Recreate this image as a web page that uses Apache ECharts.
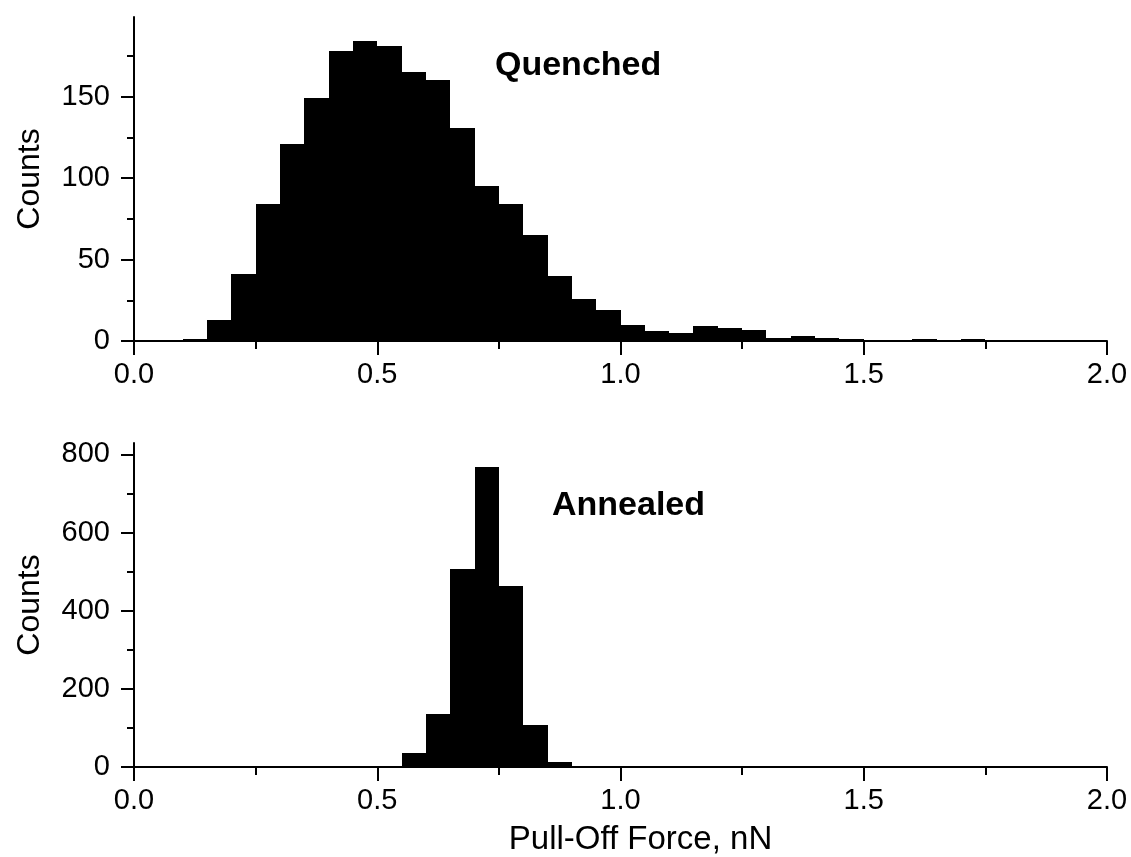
<!DOCTYPE html>
<html>
<head>
<meta charset="utf-8">
<title>Pull-off force histograms</title>
<script src="https://cdn.jsdelivr.net/npm/echarts@6/dist/echarts.min.js"></script>
<style>
  html, body { margin: 0; padding: 0; background: #fff; }
  #chart { width: 1131px; height: 857px; }
</style>
</head>
<body>
<div id="chart"></div>
<script>
// histogram bins, width 0.05 nN (left edges)
const binWidth = 0.05;
const binStarts = [
  0.00, 0.05, 0.10, 0.15, 0.20, 0.25, 0.30, 0.35, 0.40, 0.45,
  0.50, 0.55, 0.60, 0.65, 0.70, 0.75, 0.80, 0.85, 0.90, 0.95,
  1.00, 1.05, 1.10, 1.15, 1.20, 1.25, 1.30, 1.35, 1.40, 1.45,
  1.50, 1.55, 1.60, 1.65, 1.70, 1.75, 1.80, 1.85, 1.90, 1.95
];

// counts
const quenchedCounts = [
  0, 0, 1, 13, 41, 84, 121, 149, 178, 184,
  181, 165, 160, 131, 95, 84, 65, 40, 26, 19,
  10, 6, 5, 9, 8, 7, 2, 3, 2, 1,
  0, 0, 1, 0, 1, 0, 0, 0, 0, 0
];
const annealedCounts = [
  0, 0, 0, 0, 0, 0, 0, 0, 0, 0,
  0, 35, 135, 506, 767, 462, 107, 14, 0, 0,
  0, 0, 0, 0, 0, 0, 0, 0, 0, 0,
  0, 0, 0, 0, 0, 0, 0, 0, 0, 0
];

// axis ticks
const quenchedMajor = [0, 50, 100, 150];
const quenchedMinor = [25, 75, 125, 175];
const annealedMajor = [0, 200, 400, 600, 800];
const annealedMinor = [100, 300, 500, 700];

const FONT = '"Liberation Sans", Arial, Helvetica, sans-serif';
const black = '#000';

const chart = echarts.init(document.getElementById('chart'));

const toBins = counts => binStarts.map((s, i) => [s, s + binWidth, counts[i]]);

// draw each bin as a rect through the axis scales;
// edges snapped to whole pixels so neighbouring bins join without seams
function renderBin(params, api) {
  if (!api.value(2)) return null;
  const top = api.coord([api.value(0), api.value(2)]);
  const bottom = api.coord([api.value(1), 0]);
  const x0 = Math.round(top[0]);
  const x1 = Math.round(bottom[0]);
  const y1 = Math.round(bottom[1]);
  const y0 = Math.min(Math.round(top[1]), y1 - 1);
  return {
    type: 'rect',
    shape: { x: x0, y: y0, width: x1 - x0, height: y1 - y0 },
    style: { fill: black }
  };
}

function xAxisFor(gridIndex, name) {
  return {
    type: 'value',
    gridIndex,
    min: 0,
    max: 2,
    interval: 0.5,
    axisLine: { onZero: false, lineStyle: { color: black, width: 2 } },
    axisTick: { length: 14, lineStyle: { color: black, width: 2 } },
    minorTick: { show: true, splitNumber: 2, length: 8, lineStyle: { color: black, width: 2 } },
    splitLine: { show: false },
    axisLabel: {
      color: black, fontFamily: FONT, fontSize: 29, margin: 19,
      formatter: v => v.toFixed(1)
    },
    name,
    nameLocation: 'middle',
    nameGap: 56,
    nameTextStyle: { color: black, fontFamily: FONT, fontSize: 33, padding: [0, 0, 0, 40] }
  };
}

function yAxisFor(gridIndex, max, major) {
  return {
    type: 'value',
    gridIndex,
    min: 0,
    max,
    position: 'left',
    axisLine: { show: true, onZero: false, lineStyle: { color: black, width: 2 } },
    axisTick: { show: true, length: 13, customValues: major, lineStyle: { color: black, width: 2 } },
    axisLabel: { color: black, fontFamily: FONT, fontSize: 29, margin: 24, customValues: major },
    splitLine: { show: false },
    name: 'Counts',
    nameLocation: 'middle',
    nameGap: 88,
    nameRotate: 90,
    nameTextStyle: { color: black, fontFamily: FONT, fontSize: 32 }
  };
}

// second left axis per grid, only for the short minor ticks
function minorYAxisFor(gridIndex, max, minor) {
  return {
    type: 'value',
    gridIndex,
    min: 0,
    max,
    position: 'left',
    axisLine: { show: false },
    axisTick: { show: true, length: 7, customValues: minor, lineStyle: { color: black, width: 2 } },
    axisLabel: { show: false },
    splitLine: { show: false }
  };
}

const option = {
  backgroundColor: '#fff',
  animation: false,
  grid: [
    { left: 134, right: 24, top: 17, bottom: 516, outerBoundsMode: 'none' },
    { left: 134, right: 24, top: 443, bottom: 90, outerBoundsMode: 'none' }
  ],
  xAxis: [
    xAxisFor(0, ''),
    xAxisFor(1, 'Pull-Off Force, nN')
  ],
  yAxis: [
    yAxisFor(0, 199, quenchedMajor),
    yAxisFor(1, 829, annealedMajor),
    minorYAxisFor(0, 199, quenchedMinor),
    minorYAxisFor(1, 829, annealedMinor)
  ],
  graphic: [
    {
      type: 'text', x: 495, y: 66,
      style: {
        text: 'Quenched', fill: black, font: 'bold 34px ' + FONT,
        textAlign: 'left', textVerticalAlign: 'middle'
      }
    },
    {
      type: 'text', x: 552, y: 506,
      style: {
        text: 'Annealed', fill: black, font: 'bold 34px ' + FONT,
        textAlign: 'left', textVerticalAlign: 'middle'
      }
    }
  ],
  series: [
    {
      name: 'Quenched',
      type: 'custom',
      xAxisIndex: 0,
      yAxisIndex: 0,
      renderItem: renderBin,
      encode: { x: [0, 1], y: 2 },
      data: toBins(quenchedCounts)
    },
    {
      name: 'Annealed',
      type: 'custom',
      xAxisIndex: 1,
      yAxisIndex: 1,
      renderItem: renderBin,
      encode: { x: [0, 1], y: 2 },
      data: toBins(annealedCounts)
    }
  ]
};

chart.setOption(option);
</script>
</body>
</html>
